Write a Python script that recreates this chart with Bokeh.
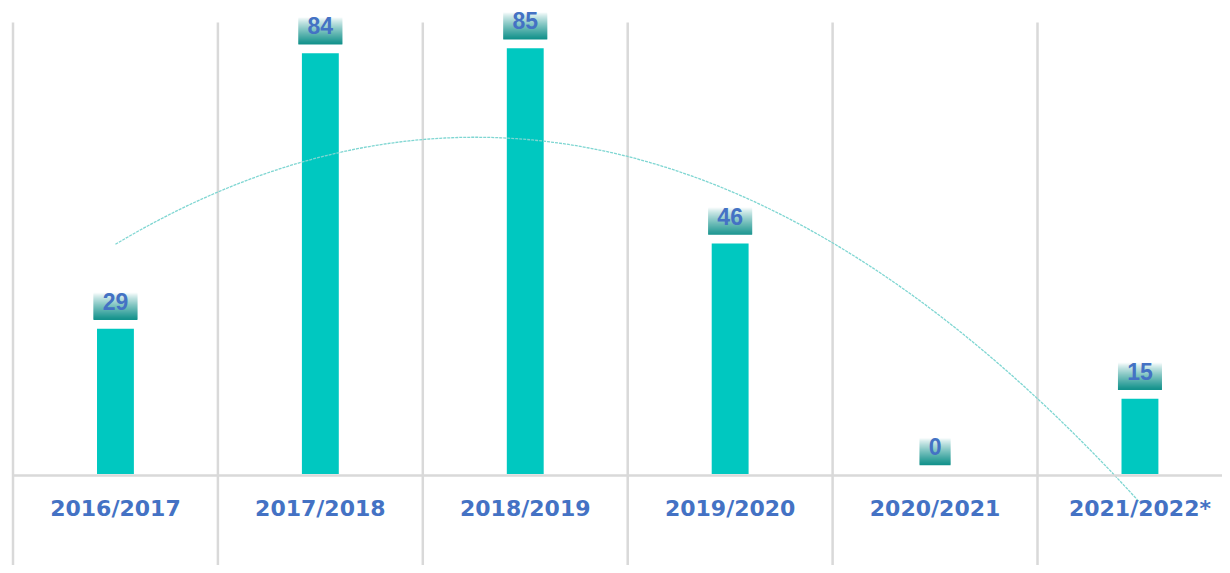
import numpy as np
from bokeh.plotting import figure
from bokeh.models import Range1d
from bokeh.core.properties import value
from bokeh.embed import file_html
from bokeh.resources import INLINE

# ---- data ----
categories = ["2016/2017", "2017/2018", "2018/2019", "2019/2020", "2020/2021", "2021/2022*"]
counts = [29, 84, 85, 46, 0, 15]

# ---- styles ----
BAR_COLOR = "#00C8C0"
GRID_COLOR = "#D9D9D9"
LABEL_BLUE = "#4472C4"
TREND_COLOR = "#7FD6D2"

W, H = 1222, 565
PX_X = 204.9          # pixels per category
PX_Y = 5.01           # pixels per unit
x_start = -12.5 / PX_X
x_end = x_start + W / PX_X
y_end = 473.5 / PX_Y
y_start = y_end - H / PX_Y

p = figure(width=W, height=H, output_backend="svg", toolbar_location=None,
           x_axis_type=None, y_axis_type=None,
           x_range=Range1d(x_start, x_end), y_range=Range1d(y_start, y_end),
           min_border=0, outline_line_color=None)
p.background_fill_color = "white"
p.border_fill_color = "white"

n = len(categories)
xs = [i + 0.5 for i in range(n)]

# vertical separators between categories
bounds = list(range(n + 1))
top_grid = (473.5 - 22) / PX_Y
p.segment(x0=bounds, x1=bounds, y0=[y_start - 5] * len(bounds), y1=[top_grid] * len(bounds),
          line_color=GRID_COLOR, line_width=2.5)

# bars
p.vbar(x=xs, top=counts, bottom=0, width=0.18, fill_color=BAR_COLOR, line_color=None)

# polynomial (order 2) trendline fitted from the data
coef = np.polyfit(np.arange(1, n + 1), counts, 2)
tx = np.linspace(1, n, 200)
p.line(x=tx - 0.5, y=np.polyval(coef, tx), line_color=TREND_COLOR, line_width=1.3,
       line_dash="3 1")

# horizontal axis line
p.segment(x0=[0], x1=[n + 1], y0=[-0.3], y1=[-0.3], line_color=GRID_COLOR, line_width=2.5)

# data label boxes with vertical gradient
gap = 9 / PX_Y
box_h = 27 / PX_Y
strips = 27
c_top = np.array([250, 253, 253])
c_bot = np.array([20, 146, 140])
L, R, T, B, C = [], [], [], [], []
for x, v in zip(xs, counts):
    half = (44 if len(str(v)) > 1 else 31) / 2 / PX_X
    b0 = v + gap
    for k in range(strips):
        f = (k / (strips - 1)) ** 0.85
        col = c_top + (c_bot - c_top) * f
        L.append(x - half)
        R.append(x + half)
        T.append(b0 + box_h * (1 - k / strips) + 0.05)
        B.append(b0 + box_h * (1 - (k + 1) / strips) - 0.05)
        C.append("#%02x%02x%02x" % tuple(int(round(c)) for c in col))
p.quad(left=L, right=R, top=T, bottom=B, fill_color=C, line_color=None)

label_y = [v + gap + box_h / 2 for v in counts]
p.text(x=xs, y=label_y, text=[str(v) for v in counts], text_align="center",
       text_baseline="middle", y_offset=-5, text_color=LABEL_BLUE,
       text_font=value("Liberation Sans"), text_font_style="bold",
       text_font_size="23px")

# category labels
p.text(x=xs, y=[0] * n, text=categories, text_align="center", text_baseline="middle",
       y_offset=34, text_color=LABEL_BLUE, text_font=value("DejaVu Sans"),
       text_font_style="bold", text_font_size="22px")

open("out.html", "w").write(file_html(p, INLINE))
